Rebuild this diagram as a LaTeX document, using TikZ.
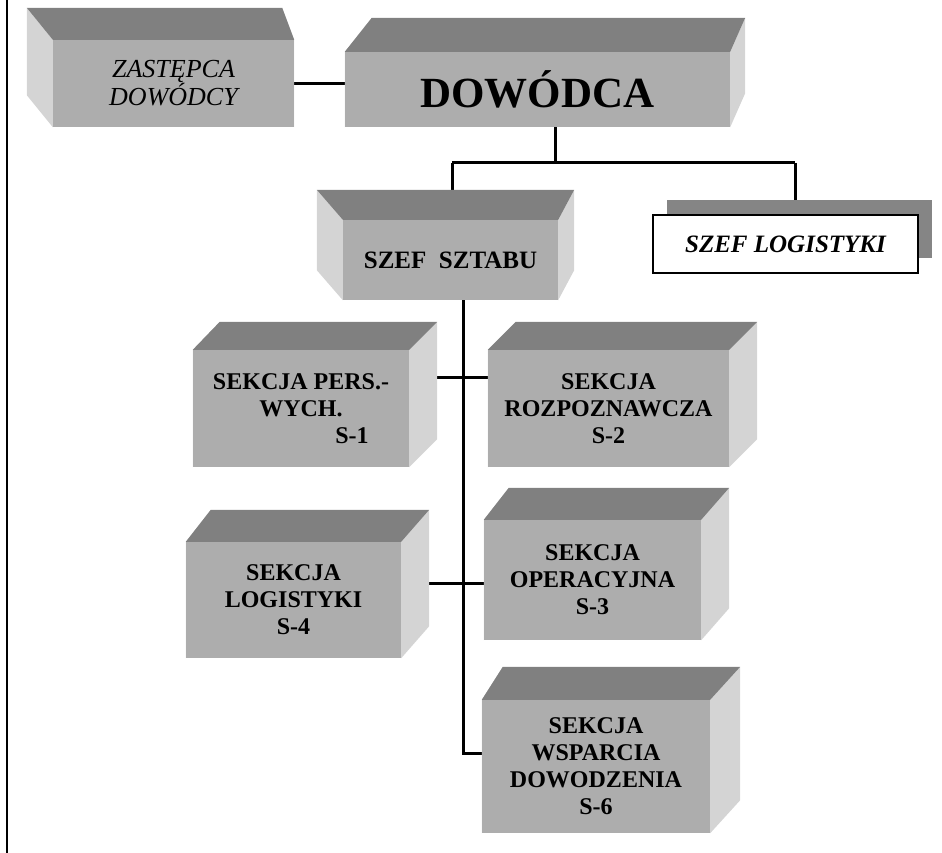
\documentclass[tikz,border=0pt]{standalone}
\usepackage{fontspec}
\setmainfont{Liberation Serif}
\usetikzlibrary{positioning,backgrounds,shadows}

% top and side faces of a block: node, left shift, right shift, rise
\newcommand{\blockfaces}[4]{%
  \fill[sideface] (#1.north west) -- ++(#2,-#4) -- ([shift={(#2,-#4)}]#1.south west) -- (#1.south west) -- cycle;
  \fill[sideface] (#1.north east) -- ++(#3,-#4) -- ([shift={(#3,-#4)}]#1.south east) -- (#1.south east) -- cycle;
  \fill[topface] (#1.north west) -- ++(#2,-#4) -- ([shift={(#3,-#4)}]#1.north east) -- (#1.north east) -- cycle;
}

\begin{document}
\begin{tikzpicture}[
    x=1pt, y=-1pt,
    block/.style={rectangle, fill=black!32, inner sep=0pt, align=center, font=\bfseries\fontsize{24}{27}\selectfont},
    topface/.style={fill=black!50},
    sideface/.style={fill=black!17},
    link/.style={draw, line width=3pt},
]
\useasboundingbox (0,0) rectangle (942,853);
\draw[line width=2pt] (7,0) -- (7,853);

\node[block, minimum width=241, minimum height=87, font=\itshape\fontsize{26}{28}\selectfont] (zast) at (173.5,83.5) {ZASTĘPCA\\DOWÓDCY};
\node[block, minimum width=385, minimum height=75, font=\bfseries\fontsize{43}{46}\selectfont] (dow) at (537.5,89.5) {DOWÓDCA};
\node[block, minimum width=215, minimum height=80, font=\bfseries\fontsize{25}{28}\selectfont] (sztab) at (450.5,260) {SZEF\ \ SZTABU};
\node[draw, line width=2pt, fill=white, minimum width=265, minimum height=58,
      drop shadow={shadow xshift=14pt, shadow yshift=15pt, fill=black!48, opacity=1},
      font=\bfseries\itshape\fontsize{25}{28}\selectfont] (slog) at (785.5,244) {SZEF LOGISTYKI};

\node[block, minimum width=216, minimum height=117] (s1) at (301,408.5) {SEKCJA PERS.-\\WYCH.\\\hspace*{102pt}S-1};
\node[block, minimum width=241, minimum height=117] (s2) at (608.5,408.5) {SEKCJA\\ROZPOZNAWCZA\\S-2};
\node[block, minimum width=215, minimum height=116] (s4) at (293.5,600) {SEKCJA\\LOGISTYKI\\S-4};
\node[block, minimum width=217, minimum height=120] (s3) at (592.5,580) {SEKCJA\\OPERACYJNA\\S-3};
\node[block, minimum width=228, minimum height=133] (s6) at (596,766.5) {SEKCJA\\WSPARCIA\\DOWODZENIA\\S-6};

\coordinate (barL) at (452,163);
\coordinate (barR) at (795,163);
\coordinate (turn) at (463,753);

\begin{scope}[on background layer]
  % connectors
  \draw[link] (zast.east) -- (zast.east -| dow.west);
  \draw[link] ([xshift=18]dow.south) -- ([xshift=18]dow.south |- barL);
  \draw[link] (barL) -- (barR);
  \draw[link] (barL) -- (barL |- sztab.north);
  \draw[link] (barR) -- (barR |- slog.north);
  \draw[link] (sztab.south -| turn) -- (turn) -- (turn -| s6.west);
  \draw[link] ([yshift=31.5]s1.east) -- ([yshift=31.5]s1.east -| s2.west);
  \draw[link] ([yshift=17]s4.east) -- ([yshift=17]s4.east -| s3.west);
  % block faces
  \blockfaces{zast}{-26}{-12}{32}
  \blockfaces{dow}{27}{15}{34}
  \blockfaces{sztab}{-26}{16}{30}
  \blockfaces{s1}{27}{28}{28}
  \blockfaces{s2}{28}{28}{28}
  \blockfaces{s4}{25}{28}{32}
  \blockfaces{s3}{25}{28}{32}
  \blockfaces{s6}{21}{30}{33}
\end{scope}
\end{tikzpicture}
\end{document}
